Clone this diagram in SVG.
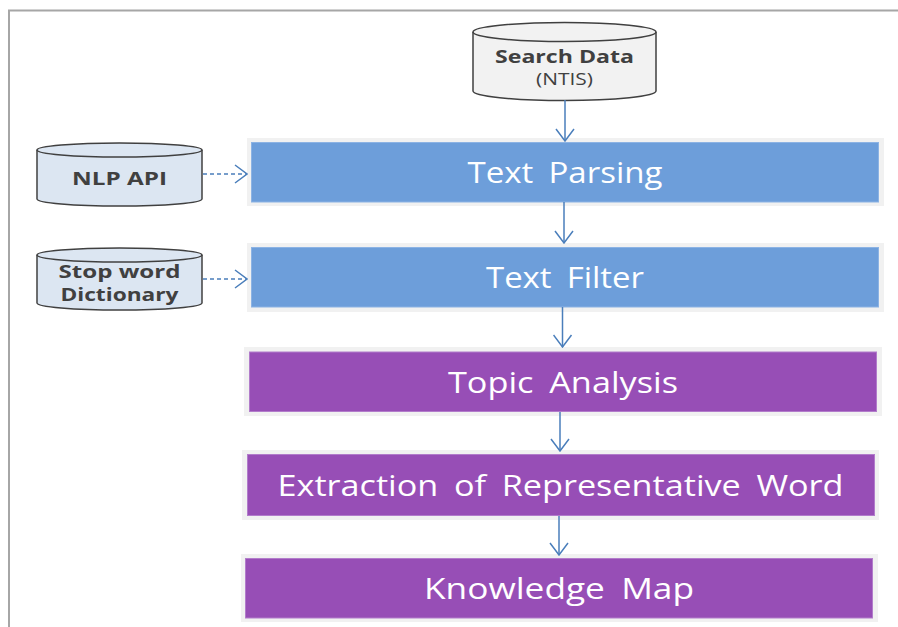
<svg xmlns="http://www.w3.org/2000/svg" width="898" height="627" viewBox="0 0 898 627">
<style>
.frame{stroke:#a6a6a6;stroke-width:2;fill:none}
.glow{fill:#f1f1f1}
.blue{fill:#6d9eda;stroke:#8cb3e4;stroke-width:1}
.purple{fill:#974eb6;stroke:#b27ccb;stroke-width:1}
.btxt{font-family:"Open Sans","Noto Sans",sans-serif;font-size:30px;fill:#ffffff;text-anchor:middle;word-spacing:6px}
.cyl{stroke:#404040;stroke-width:1.5}
.db{font-family:"Open Sans","Noto Sans",sans-serif;font-weight:bold;font-size:18.5px;fill:#404040;text-anchor:middle}
.dr{font-family:"Open Sans","Noto Sans",sans-serif;font-size:15.5px;fill:#404040;text-anchor:middle}
.conn{stroke:#4a7ebb;stroke-width:1.5;fill:none}
.dash{stroke-dasharray:4 3}
</style>
<defs>
<marker id="arr" viewBox="0 0 14 20" refX="13" refY="10" markerWidth="14" markerHeight="20" markerUnits="userSpaceOnUse" orient="auto">
<path d="M1,1 L13,10 L1,19" fill="none" stroke="#4a7ebb" stroke-width="1.5"/>
</marker>
</defs>
<rect width="898" height="627" fill="#ffffff"/>
<path class="frame" d="M9,627 L9,10.5 L898,10.5"/>

<g id="search-data">
<path class="cyl" fill="#f2f2f2" d="M473,32 A91.5,9.5 0 0 1 656,32 L656,91 A91.5,9.5 0 0 1 473,91 Z"/>
<path class="cyl" fill="none" d="M473,32 A91.5,9.5 0 0 0 656,32"/>
<text class="db" x="564.5" y="63" textLength="139" lengthAdjust="spacingAndGlyphs">Search Data</text>
<text class="dr" x="564.5" y="85" textLength="57" lengthAdjust="spacingAndGlyphs">(NTIS)</text>
</g>

<g id="nlp-api">
<path class="cyl" fill="#dce6f2" d="M37,150 A82.5,7 0 0 1 202,150 L202,199 A82.5,7 0 0 1 37,199 Z"/>
<path class="cyl" fill="none" d="M37,150 A82.5,7 0 0 0 202,150"/>
<text class="db" x="119.5" y="185" textLength="95" lengthAdjust="spacingAndGlyphs">NLP API</text>
</g>

<g id="stop-word">
<path class="cyl" fill="#dce6f2" d="M37,255 A82.5,7 0 0 1 202,255 L202,303 A82.5,7 0 0 1 37,303 Z"/>
<path class="cyl" fill="none" d="M37,255 A82.5,7 0 0 0 202,255"/>
<text class="db" x="119.5" y="278" textLength="122" lengthAdjust="spacingAndGlyphs">Stop word</text>
<text class="db" x="119.5" y="301" textLength="118" lengthAdjust="spacingAndGlyphs">Dictionary</text>
</g>

<g id="text-parsing">
<rect class="glow" x="247" y="138" width="637" height="68"/>
<rect class="blue" x="251.5" y="142.5" width="627" height="59.5"/>
<text class="btxt" x="565" y="183" textLength="195" lengthAdjust="spacingAndGlyphs">Text Parsing</text>
</g>

<g id="text-filter">
<rect class="glow" x="247" y="243" width="637" height="69"/>
<rect class="blue" x="251.5" y="247.5" width="627" height="59.5"/>
<text class="btxt" x="565" y="287.5" textLength="158" lengthAdjust="spacingAndGlyphs">Text Filter</text>
</g>

<g id="topic-analysis">
<rect class="glow" x="244" y="347" width="638" height="69"/>
<rect class="purple" x="249.5" y="352" width="627" height="59.5"/>
<text class="btxt" x="563" y="392.5" textLength="230" lengthAdjust="spacingAndGlyphs">Topic Analysis</text>
</g>

<g id="extraction">
<rect class="glow" x="242" y="450" width="637" height="70"/>
<rect class="purple" x="247.5" y="454.5" width="627" height="61"/>
<text class="btxt" x="560.5" y="496" textLength="566" lengthAdjust="spacingAndGlyphs">Extraction of Representative Word</text>
</g>

<g id="knowledge-map">
<rect class="glow" x="241" y="554" width="637" height="68"/>
<rect class="purple" x="245.5" y="558.5" width="627" height="59.5"/>
<text class="btxt" x="559" y="599" textLength="270" lengthAdjust="spacingAndGlyphs">Knowledge Map</text>
</g>

<g id="connectors">
<line class="conn" x1="565" y1="100" x2="565" y2="141" marker-end="url(#arr)"/>
<line class="conn" x1="564" y1="202" x2="564" y2="243" marker-end="url(#arr)"/>
<line class="conn" x1="562.5" y1="307" x2="562.5" y2="347" marker-end="url(#arr)"/>
<line class="conn" x1="560" y1="412" x2="560" y2="451" marker-end="url(#arr)"/>
<line class="conn" x1="559" y1="516" x2="559" y2="555" marker-end="url(#arr)"/>
<line class="conn dash" x1="203" y1="174" x2="247" y2="174" marker-end="url(#arr)"/>
<line class="conn dash" x1="203" y1="279" x2="247" y2="279" marker-end="url(#arr)"/>
</g>
</svg>
